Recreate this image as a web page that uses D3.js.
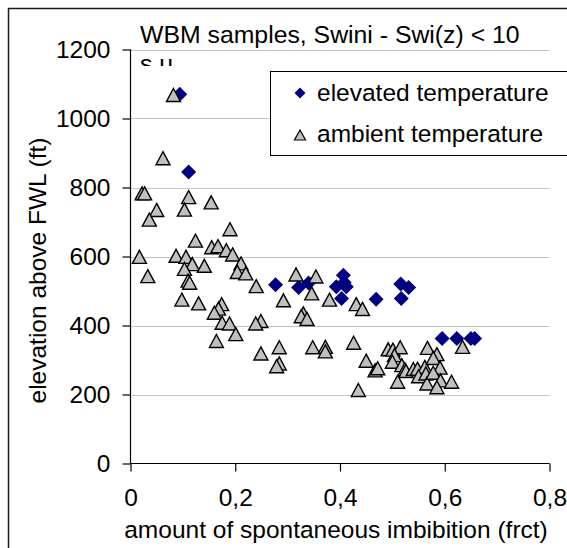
<!DOCTYPE html>
<html>
<head>
<meta charset="utf-8">
<script src="https://cdn.jsdelivr.net/npm/d3@7"></script>
<style>
  html, body { margin: 0; padding: 0; background: #fff; }
  svg { display: block; }
  text { font-family: "Liberation Sans", Arial, sans-serif; fill: #000; }
</style>
</head>
<body>
<svg id="chart" width="567" height="548"></svg>
<script>
// Elevated-temperature samples: spontaneous imbibition (fraction) vs elevation above FWL (ft)
const elevatedX = [0.094, 0.111, 0.277, 0.321, 0.340, 0.393, 0.4065, 0.408, 0.412, 0.403,
                   0.469, 0.516, 0.531, 0.517, 0.595, 0.623, 0.650, 0.657];
const elevatedY = [1070, 845, 518, 510, 523, 512, 546, 525, 512, 478,
                   476, 520, 510, 478, 362, 362, 362, 362];

// Ambient-temperature samples
const ambientX = [0.082, 0.062, 0.022, 0.027, 0.111, 0.154, 0.050, 0.103, 0.036, 0.190,
                  0.124, 0.155, 0.167, 0.183, 0.195, 0.017, 0.087, 0.106, 0.118, 0.103,
                  0.141, 0.211, 0.204, 0.220, 0.033, 0.110, 0.113, 0.240, 0.316, 0.346,
                  0.292, 0.098, 0.130, 0.174, 0.168, 0.160, 0.175, 0.189, 0.201, 0.164,
                  0.249, 0.239, 0.249, 0.284, 0.284, 0.279, 0.330, 0.326, 0.337, 0.348,
                  0.354, 0.380, 0.431, 0.443, 0.372, 0.372, 0.426, 0.450, 0.467, 0.472,
                  0.435, 0.492, 0.501, 0.515, 0.504, 0.500, 0.518, 0.524, 0.526, 0.510,
                  0.540, 0.548, 0.562, 0.550, 0.564, 0.566, 0.567, 0.585, 0.578, 0.591,
                  0.578, 0.592, 0.585, 0.613, 0.634];
const ambientY = [1068, 885, 783, 783, 772, 757, 735, 736, 707, 679,
                  646, 627, 630, 618, 606, 599, 602, 599, 578, 564,
                  573, 580, 555, 551, 543, 530, 524, 514, 548, 493,
                  473, 475, 464, 462, 449, 437, 408, 406, 375, 355,
                  413, 406, 319, 337, 290, 282, 435, 427, 419, 337,
                  542, 475, 462, 448, 338, 325, 350, 298, 270, 276,
                  213, 331, 330, 337, 314, 295, 285, 273, 268, 237,
                  274, 275, 280, 253, 261, 232, 335, 317, 306, 278,
                  263, 241, 221, 237, 338];

const xTicks = [0, 0.2, 0.4, 0.6, 0.8];
const yTicks = [0, 200, 400, 600, 800, 1000, 1200];

const titleLines = ["WBM samples, Swini - Swi(z) < 10", "s.u."];
const seriesNames = ["elevated temperature", "ambient temperature"];
const xTitle = "amount of spontaneous imbibition (frct)";
const yTitle = "elevation above FWL (ft)";

const svg = d3.select("#chart");
const FONT = 24.5;

const x = d3.scaleLinear().domain([0, 0.8]).range([130.5, 549.5]);
const y = d3.scaleLinear().domain([0, 1200]).range([463.5, 49.5]);

// white page
svg.append("rect").attr("width", 567).attr("height", 548).attr("fill", "#fff");

// outer chart frame (continues past the right and bottom edges)
svg.append("path")
  .attr("d", "M8.5,548 V8.5 H567")
  .attr("fill", "none").attr("stroke", "#1a1a1a").attr("stroke-width", 1.5);

// horizontal gridlines
svg.append("g").selectAll("line")
  .data(yTicks.filter(d => d > 0))
  .join("line")
  .attr("x1", x(0)).attr("x2", x(0.8))
  .attr("y1", d => Math.round(y(d)) + 0.5).attr("y2", d => Math.round(y(d)) + 0.5)
  .attr("stroke", "#c4c4c4").attr("stroke-width", 1);

// title (second line is clipped by the title box)
svg.append("defs").append("clipPath").attr("id", "titleClip")
  .append("rect").attr("x", 0).attr("y", 0).attr("width", 567).attr("height", 66);
const title = svg.append("g").attr("clip-path", "url(#titleClip)");
title.selectAll("text").data(titleLines).join("text")
  .attr("x", 140).attr("y", (d, i) => 43 + i * 29)
  .attr("font-size", 24.8)
  .text(d => d);

// axes
const yAxis = svg.append("g")
  .attr("transform", `translate(${x(0)},0)`)
  .call(d3.axisLeft(y).tickValues(yTicks).tickSize(8).tickPadding(12).tickFormat(d3.format("d")));
const xAxis = svg.append("g")
  .attr("transform", `translate(0,${y(0)})`)
  .call(d3.axisBottom(x).tickValues(xTicks).tickSize(8).tickPadding(17)
    .tickFormat(d => d === 0 ? "0" : d3.format(".1f")(d).replace(".", ",")));
[yAxis, xAxis].forEach(g => {
  g.select(".domain").attr("stroke", "#000").attr("stroke-width", 1.2);
  g.selectAll(".tick line").attr("stroke", "#000").attr("stroke-width", 1.2);
  g.selectAll(".tick text").attr("font-size", FONT).attr("fill", "#000")
    .attr("font-family", "\"Liberation Sans\", Arial, sans-serif");
});
yAxis.select(".domain").attr("d", `M0,${y(1200)}V${y(0)}`);
xAxis.select(".domain").attr("d", `M${x(0)},0H${x(0.8)}`);

// axis titles
svg.append("text")
  .attr("x", (x(0) + x(0.8)) / 2 - 4).attr("y", 538)
  .attr("text-anchor", "middle").attr("font-size", FONT)
  .text(xTitle);
svg.append("text")
  .attr("transform", `translate(46,${(y(0) + y(1200)) / 2 + 14}) rotate(-90)`)
  .attr("text-anchor", "middle").attr("font-size", FONT)
  .text(yTitle);

// marker shapes
const diamond = s => `M0,${-s}L${s},0L0,${s}L${-s},0Z`;
const triangle = (w, h) => `M0,${-h / 2}L${w / 2},${h / 2}L${-w / 2},${h / 2}Z`;

const elevated = elevatedX.map((v, i) => [v, elevatedY[i]]);
const ambient = ambientX.map((v, i) => [v, ambientY[i]]);

svg.append("g").selectAll("path").data(elevated).join("path")
  .attr("transform", d => `translate(${x(d[0])},${y(d[1])})`)
  .attr("d", diamond(7.5))
  .attr("fill", "#000080");

svg.append("g").selectAll("path").data(ambient).join("path")
  .attr("transform", d => `translate(${x(d[0])},${y(d[1])})`)
  .attr("d", triangle(14, 13))
  .attr("fill", "#c0c0c0").attr("stroke", "#000").attr("stroke-width", 1.4)
  .attr("stroke-linejoin", "miter");

// legend
const legend = svg.append("g");
legend.append("rect")
  .attr("x", 270.5).attr("y", 71.5).attr("width", 400).attr("height", 84)
  .attr("fill", "#fff").attr("stroke", "#000").attr("stroke-width", 1);
legend.append("path").attr("transform", "translate(300,93)")
  .attr("d", diamond(5.5)).attr("fill", "#000080");
legend.append("path").attr("transform", "translate(300,135)")
  .attr("d", triangle(11, 10))
  .attr("fill", "#c0c0c0").attr("stroke", "#000").attr("stroke-width", 1.2);
legend.selectAll("text.lbl").data(seriesNames).join("text")
  .attr("class", "lbl")
  .attr("x", 317).attr("y", (d, i) => 101 + i * 41)
  .attr("font-size", FONT)
  .text(d => d);
</script>
</body>
</html>
